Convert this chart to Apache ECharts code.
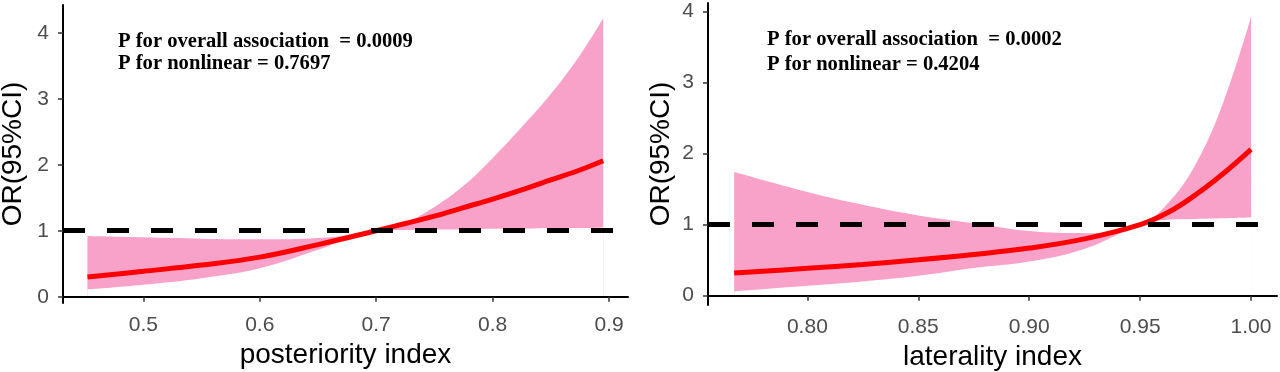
<!DOCTYPE html>
<html>
<head>
<meta charset="utf-8">
<script src="https://cdn.jsdelivr.net/npm/echarts@6/dist/echarts.min.js"></script>
<style>html,body{margin:0;padding:0;background:#fff}#c{width:1280px;height:372px}</style>
</head>
<body>
<div id="c"></div>
<script>
// ---- Left panel: posteriority index ----
const posX  = [0.452, 0.5, 0.55, 0.6, 0.65, 0.7, 0.725, 0.75, 0.775, 0.8, 0.825, 0.85, 0.875, 0.895];
const posOR = [0.30, 0.385, 0.48, 0.60, 0.79, 1.00, 1.11, 1.22, 1.35, 1.48, 1.62, 1.77, 1.92, 2.06];
const posLo = [0.11, 0.18, 0.28, 0.43, 0.71, 1.00, 1.01, 1.02, 1.02, 1.03, 1.03, 1.04, 1.04, 1.05];
const posHi = [0.92, 0.90, 0.88, 0.87, 0.89, 1.00, 1.12, 1.36, 1.68, 2.10, 2.57, 3.07, 3.66, 4.22];
const posTicks = [0.5, 0.6, 0.7, 0.8, 0.9];
const posTickLabels = ["0.5", "0.6", "0.7", "0.8", "0.9"];

// ---- Right panel: laterality index ----
const latX  = [0.767, 0.8, 0.825, 0.85, 0.875, 0.9, 0.925, 0.95, 0.9625, 0.975, 0.9875, 1.0];
const latOR = [0.32, 0.385, 0.44, 0.505, 0.58, 0.67, 0.80, 1.00, 1.17, 1.42, 1.72, 2.06];
const latLo = [0.06, 0.14, 0.20, 0.28, 0.39, 0.48, 0.66, 1.00, 1.07, 1.08, 1.09, 1.10];
const latHi = [1.74, 1.46, 1.28, 1.13, 1.02, 0.91, 0.88, 1.00, 1.30, 1.85, 2.72, 3.92];
const latTicks = [0.80, 0.85, 0.90, 0.95, 1.00];
const latTickLabels = ["0.80", "0.85", "0.90", "0.95", "1.00"];

const yTicks = [0, 1, 2, 3, 4];
const refOR = 1;

const annLeft  = ["P for overall association  = 0.0009", "P for nonlinear = 0.7697"];
const annRight = ["P for overall association  = 0.0002", "P for nonlinear = 0.4204"];

const PINK = '#F8A2C9';
const RED = '#FF0000';
const TICK_GREY = '#4D4D4D';
const SMOOTH = 0.4;

function zip(xs, ys) { return xs.map((x, i) => [x, ys[i]]); }

function xAxisCfg(idx, min, max, ticks, labels, name) {
  return {
    type: 'value', gridIndex: idx, min: min, max: max, z: 10,
    name: name, nameLocation: 'middle', nameGap: 36,
    nameTextStyle: { fontFamily: 'Liberation Sans', fontSize: 28, color: '#000' },
    axisLine: { show: true, lineStyle: { color: '#000', width: 2 } },
    axisTick: { show: true, customValues: ticks, length: 5, lineStyle: { color: '#333', width: 1.5 } },
    axisLabel: { customValues: ticks, margin: 12, fontFamily: 'Liberation Sans', fontSize: 21, color: TICK_GREY,
      formatter: v => { const i = ticks.findIndex(t => Math.abs(t - v) < 1e-9); return i >= 0 ? labels[i] : ''; } },
    splitLine: { show: false }
  };
}
function yAxisCfg(idx, min, max, gap) {
  return {
    type: 'value', gridIndex: idx, min: min, max: max, z: 10,
    name: 'OR(95%CI)', nameLocation: 'middle', nameGap: gap, nameRotate: 90,
    nameTextStyle: { fontFamily: 'Liberation Sans', fontSize: 28, color: '#000' },
    axisLine: { show: true, lineStyle: { color: '#000', width: 2 } },
    axisTick: { show: true, customValues: yTicks, length: 5, lineStyle: { color: '#333', width: 1.5 } },
    axisLabel: { customValues: yTicks, margin: 14, fontFamily: 'Liberation Sans', fontSize: 21, color: TICK_GREY,
      formatter: v => String(Math.round(v)) },
    splitLine: { show: false }
  };
}

function panelSeries(idx, xs, or, lo, hi) {
  return [
    // upper CI filled pink down to the axis
    { type: 'line', xAxisIndex: idx, yAxisIndex: idx, data: zip(xs, hi),
      smooth: SMOOTH, showSymbol: false, lineStyle: { width: 0, opacity: 0 },
      areaStyle: { color: PINK, opacity: 1 }, silent: true, z: 2 },
    // lower CI filled white down to the axis (leaves the band between)
    { type: 'line', xAxisIndex: idx, yAxisIndex: idx, data: zip(xs, lo),
      smooth: SMOOTH, showSymbol: false, lineStyle: { width: 0, opacity: 0 },
      areaStyle: { color: '#FFFFFF', opacity: 1 }, silent: true, z: 2 },
    // reference line OR = 1
    { type: 'line', xAxisIndex: idx, yAxisIndex: idx, data: [], z: 3, silent: true,
      markLine: { silent: true, symbol: ['none', 'none'], label: { show: false },
        lineStyle: { color: '#000', width: 5, type: [22, 22] },
        data: [{ yAxis: refOR }] } },
    // OR curve
    { type: 'line', xAxisIndex: idx, yAxisIndex: idx, data: zip(xs, or),
      smooth: SMOOTH, showSymbol: false, lineStyle: { color: RED, width: 5 }, silent: true, z: 4 }
  ];
}

function annText(x, y, t) {
  return { type: 'text', x: x, y: y, style: { text: t, font: 'bold 20.6px "Liberation Serif"', fill: '#000', verticalAlign: 'middle' } };
}

const chart = echarts.init(document.getElementById('c'), null, { renderer: 'canvas' });
chart.setOption({
  animation: false,
  grid: [
    { left: 63, right: 652, top: 5, bottom: 69, containLabel: false, outerBoundsMode: 'none' },
    { left: 708, right: 3, top: 3, bottom: 67, containLabel: false, outerBoundsMode: 'none' }
  ],
  xAxis: [
    xAxisCfg(0, 0.431, 0.9163, posTicks, posTickLabels, 'posteriority index'),
    xAxisCfg(1, 0.7552, 1.0117, latTicks, latTickLabels, 'laterality index')
  ],
  yAxis: [
    yAxisCfg(0, -0.095, 4.42, 36),
    yAxisCfg(1, -0.131, 4.12, 33)
  ],
  series: [].concat(panelSeries(0, posX, posOR, posLo, posHi), panelSeries(1, latX, latOR, latLo, latHi)),
  graphic: [
    annText(118, 42, annLeft[0]), annText(118, 64, annLeft[1]),
    annText(767, 40, annRight[0]), annText(767, 65, annRight[1])
  ]
});
</script>
</body>
</html>
